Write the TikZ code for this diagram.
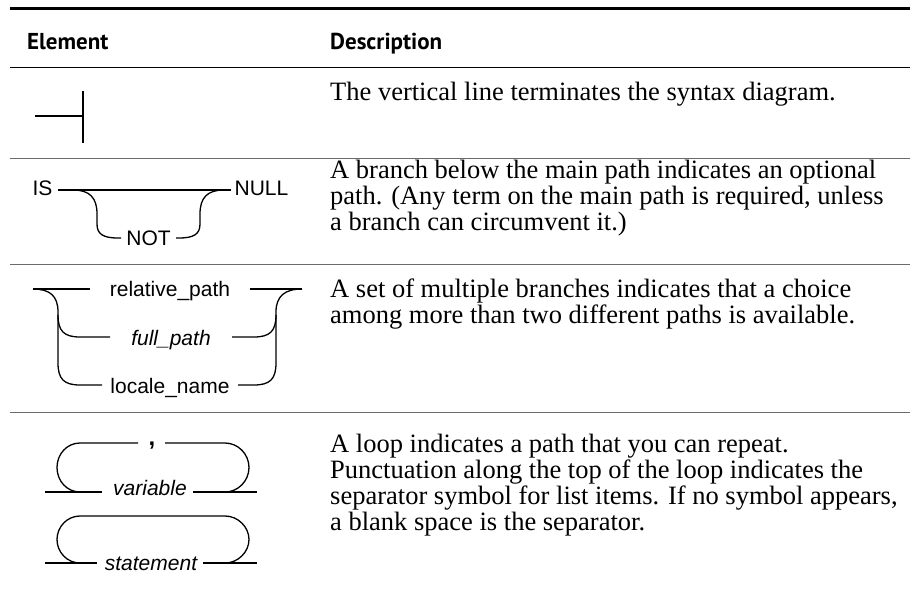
\documentclass[tikz,border=0pt]{standalone}
\usepackage{fontspec}
\setmainfont{Liberation Serif}
\newfontfamily\diagfont{Liberation Sans}
\newfontfamily\headfont{PT Sans}
\definecolor{sepgray}{rgb}{0.42,0.42,0.42}
\begin{document}
\begin{tikzpicture}[x=1pt,y=-1pt,
  seprule/.style={line width=1.3pt, draw=sepgray},
  rail/.style={line width=1.3pt},
  desc/.style={anchor=base west, inner sep=0pt, font=\fontsize{26.5}{30}\selectfont},
  hdr/.style={anchor=base west, inner sep=0pt, font=\headfont\bfseries\fontsize{23}{27}\selectfont},
  term/.style={anchor=base, inner sep=0pt, font=\diagfont\fontsize{21}{25}\selectfont},
  iterm/.style={anchor=base, inner sep=0pt, font=\diagfont\itshape\fontsize{21}{25}\selectfont}]
\fill[white] (0,0) rectangle (910,600);
\useasboundingbox (0,0) rectangle (910,600);

% table rules
\coordinate (tl) at (10,8.6);   \coordinate (tr) at (910,8.6);
\coordinate (hl) at (10,67.5);  \coordinate (hr) at (910,67.5);
\coordinate (s1l) at (10,158.5); \coordinate (s1r) at (910,158.5);
\coordinate (s2l) at (10,264.5); \coordinate (s2r) at (910,264.5);
\coordinate (s3l) at (10,412.5); \coordinate (s3r) at (910,412.5);
\draw[line width=2.6pt] (tl) -- (tr);
\draw[line width=1.5pt] (hl) -- (hr);
\draw[seprule] (s1l) -- (s1r);
\draw[seprule] (s2l) -- (s2r);
\draw[seprule] (s3l) -- (s3r);

% header
\node[hdr] (hElem) at (27,49) {Element};
\node[hdr] (hDesc) at (330,49) {Description};

% descriptions
\node[desc] (d1) at (330,100) {The vertical line terminates the syntax diagram.};
\node[desc] (d2a) at (330,178) {A branch below the main path indicates an optional};
\node[desc] (d2b) at (330,204) {path. (Any term on the main path is required, unless};
\node[desc] (d2c) at (330,230) {a branch can circumvent it.)};
\node[desc] (d3a) at (330,297) {A set of multiple branches indicates that a choice};
\node[desc] (d3b) at (330,323) {among more than two different paths is available.};
\node[desc] (d4a) at (330,452) {A loop indicates a path that you can repeat.};
\node[desc] (d4b) at (330,478) {Punctuation along the top of the loop indicates the};
\node[desc] (d4c) at (330,504) {separator symbol for list items. If no symbol appears,};
\node[desc] (d4d) at (330,530) {a blank space is the separator.};

% row 1: terminator
\coordinate (t1a) at (35,116); \coordinate (t1b) at (83,116);
\coordinate (t1top) at (83,91); \coordinate (t1bot) at (83,143);
\draw[rail] (t1a) -- (t1b);
\draw[rail] (t1top) -- (t1bot);

% row 2: IS [NOT] NULL
\node[term] (is) at (42.5,195.5) {IS};
\node[term] (null) at (261.5,195.5) {NULL};
\node[term] (not) at (148.5,245) {NOT};
\coordinate (m2a) at (58,190); \coordinate (m2b) at (231,190);
\draw[rail] (m2a) -- (m2b);
\coordinate (b2l) at (73,190); \coordinate (b2r) at (224,190);
\draw[rail] (b2l) .. controls (90,190) and (97,198) .. (97,214) -- (97,224)
  .. controls (97,234) and (103,238) .. (118,238) -- (121,238);
\draw[rail] (176,238) -- (179,238) .. controls (194,238) and (200,234) .. (200,224)
  -- (200,214) .. controls (200,198) and (207,190) .. (b2r);

% row 3: choice
\node[term] (rel) at (170,296.5) {relative\_path};
\node[iterm] (full) at (171,345) {full\_path};
\node[term] (loc) at (170,393) {locale\_name};
\coordinate (r3in) at (33,289); \coordinate (r3out) at (302,289);
\draw[rail] (r3in) -- (90,289);
\draw[rail] (250,289) -- (r3out);
% left bracket
\draw[rail] (r3in) .. controls (50,289) and (58,296) .. (58,312) -- (58,363)
  .. controls (58,379) and (64,385) .. (80,385) -- (102,385);
\draw[rail] (58,315) .. controls (58,331) and (64,337) .. (80,337) -- (110,337);
% right bracket
\draw[rail] (r3out) .. controls (285,289) and (276,296) .. (276,312) -- (276,363)
  .. controls (276,379) and (270,385) .. (254,385) -- (238,385);
\draw[rail] (276,315) .. controls (276,331) and (270,337) .. (254,337) -- (232,337);

% row 4: loops
\node[iterm] (var) at (150,495) {variable};
\node[anchor=base, inner sep=0pt, font=\diagfont\bfseries\fontsize{24}{28}\selectfont] (comma) at (152,445.5) {,};
\coordinate (l1in) at (45,492); \coordinate (l1out) at (257,492);
\draw[rail] (l1in) -- (102,492);
\draw[rail] (193,492) -- (l1out);
\draw[rail] (138,443) -- (80,443) .. controls (67,443) and (57,454) .. (57,467.5)
  .. controls (57,481) and (67,492) .. (80,492);
\draw[rail] (165,443) -- (225,443) .. controls (238,443) and (249,454) .. (249,467.5)
  .. controls (249,481) and (238,492) .. (225,492);

\node[iterm] (stmt) at (151,570) {statement};
\coordinate (l2in) at (45,563); \coordinate (l2out) at (257,563);
\draw[rail] (l2in) -- (97,563);
\draw[rail] (203,563) -- (l2out);
\draw[rail] (80,563) .. controls (67,563) and (57,552) .. (57,539.5)
  .. controls (57,527) and (67,516) .. (80,516) -- (225,516)
  .. controls (238,516) and (249,527) .. (249,539.5)
  .. controls (249,552) and (238,563) .. (225,563);
\end{tikzpicture}
\end{document}
